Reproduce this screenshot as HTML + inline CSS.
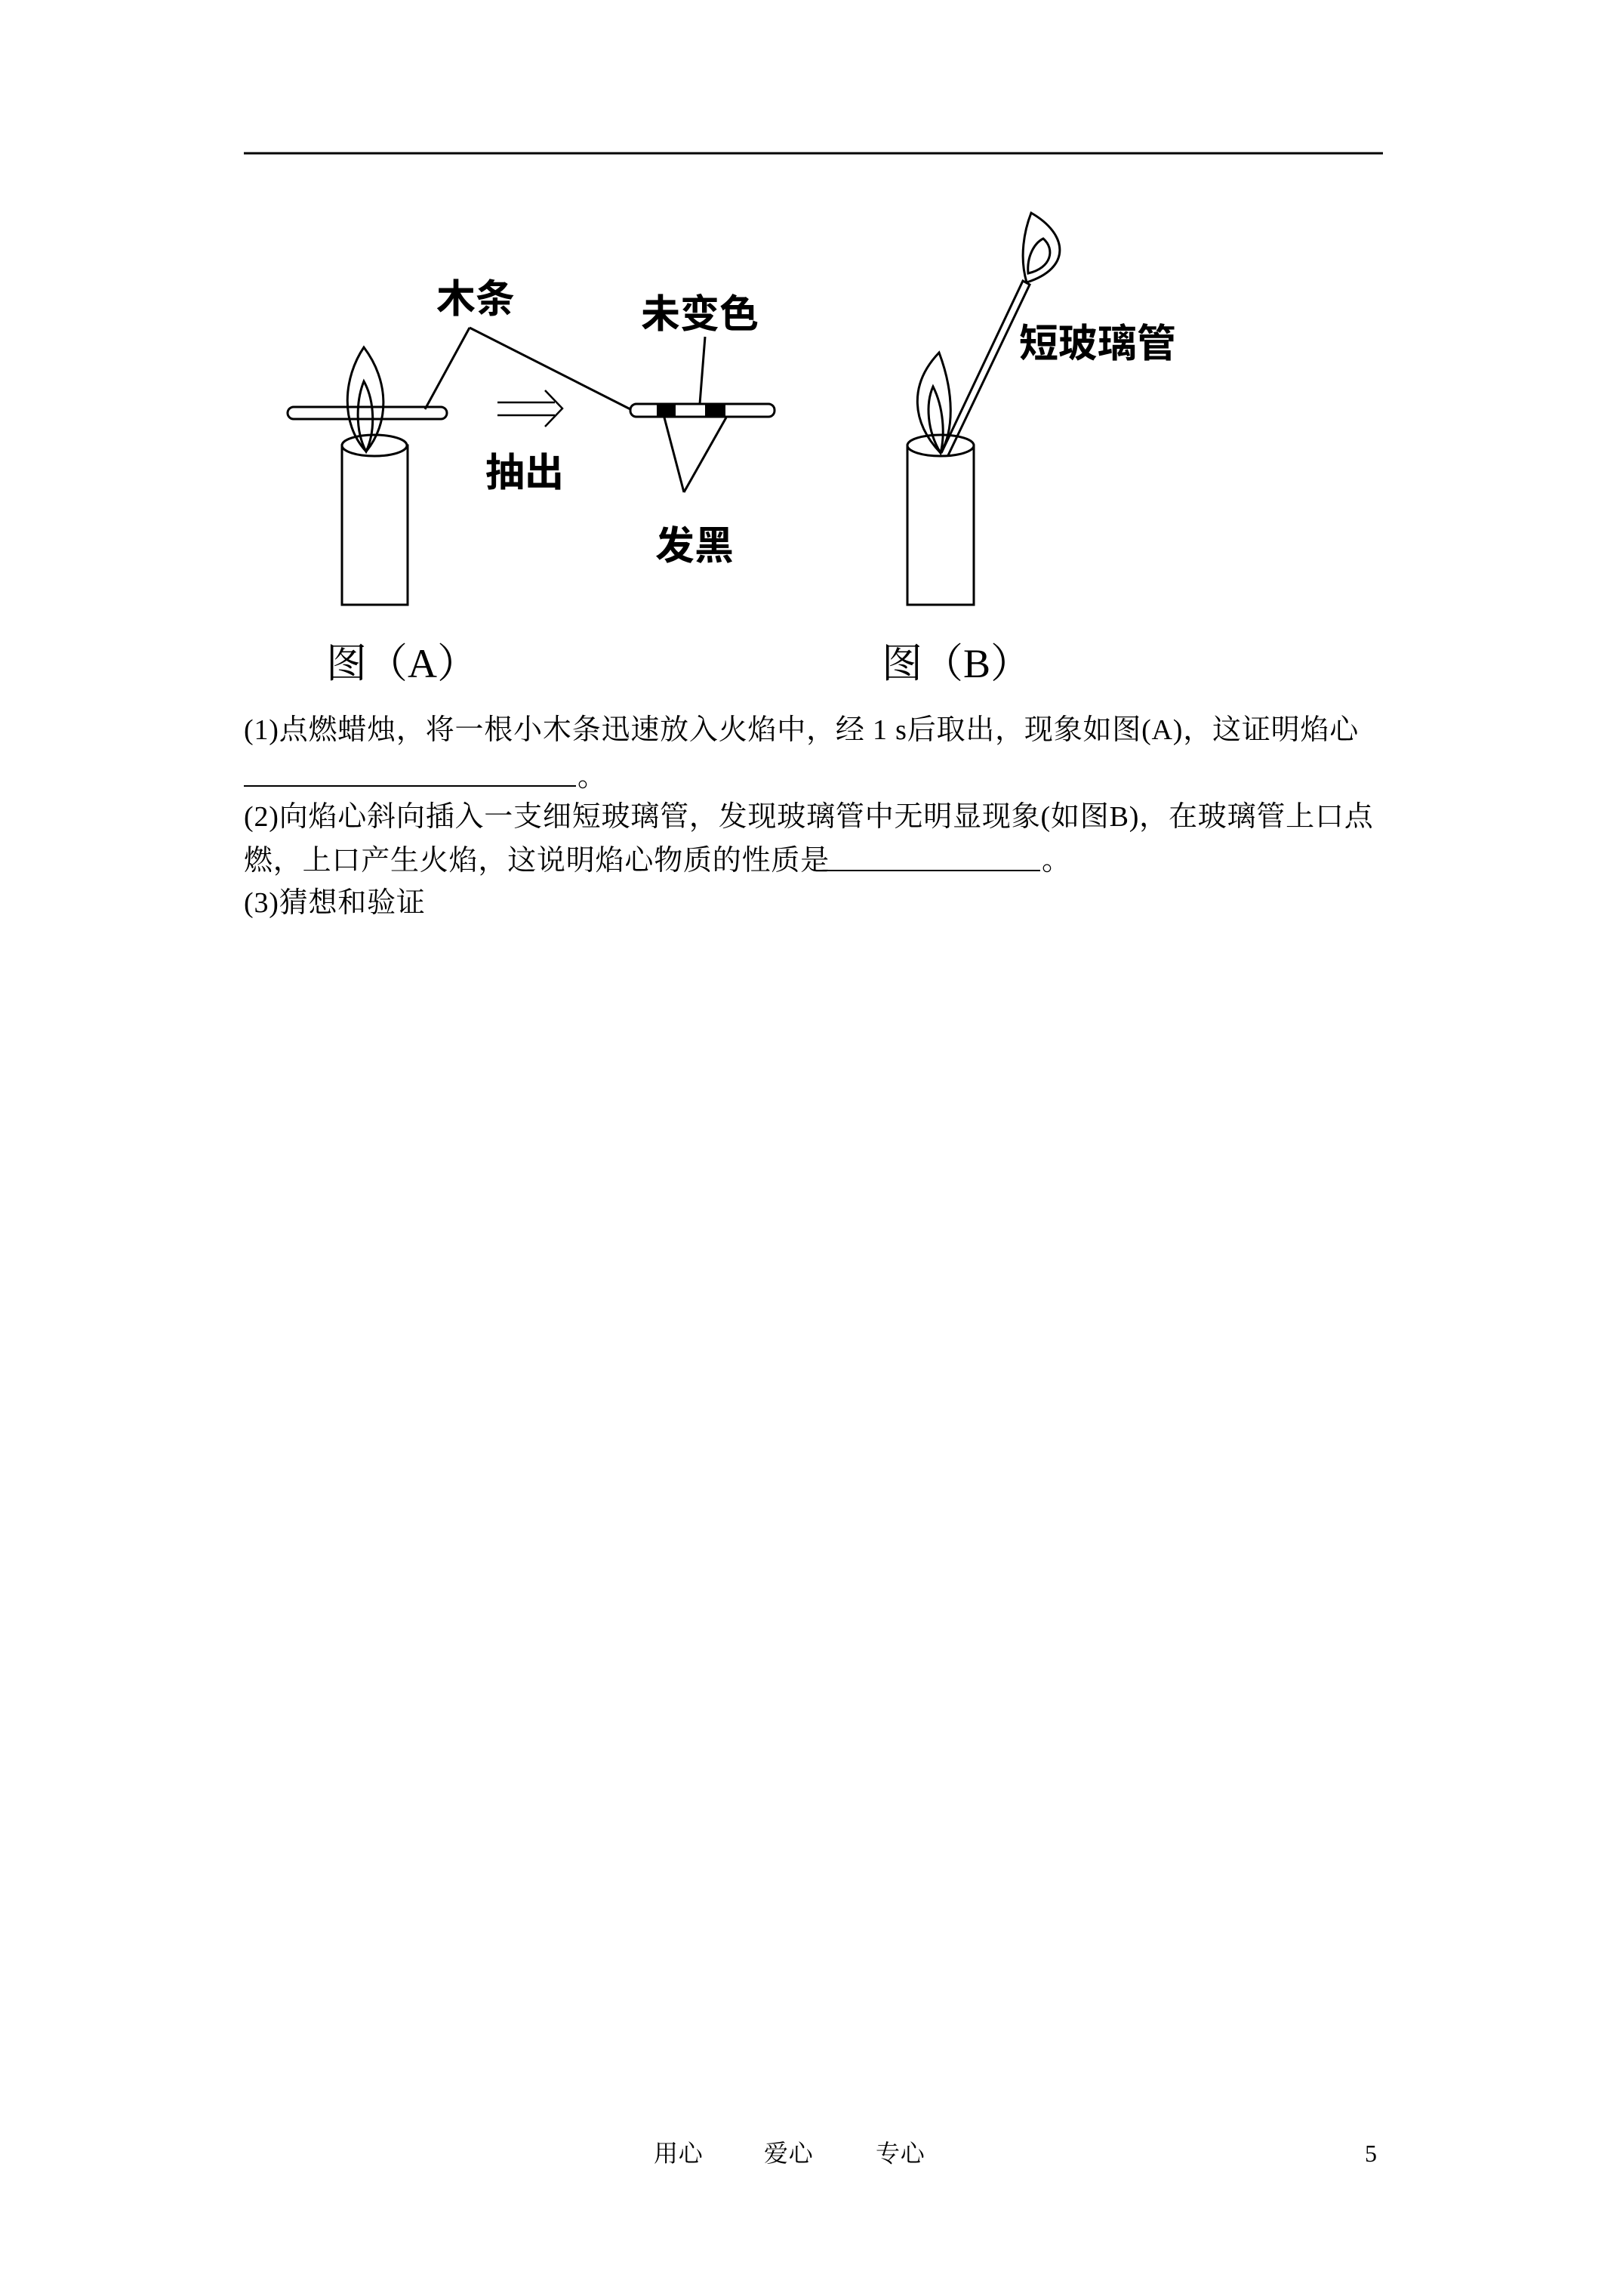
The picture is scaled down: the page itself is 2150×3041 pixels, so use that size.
<!DOCTYPE html>
<html><head><meta charset="utf-8"><style>
html,body{margin:0;padding:0;background:#fff}
body{width:2150px;height:3041px;position:relative;overflow:hidden}
.t{position:absolute;font-family:"Liberation Serif","Noto Serif CJK SC",serif;font-size:38px;letter-spacing:0.8px;color:#000;white-space:nowrap;line-height:1}
.u{position:absolute;border-top:2px solid #000}
</style></head><body>
<svg width="2150" height="1000" style="position:absolute;left:0;top:0" xmlns="http://www.w3.org/2000/svg">
<line x1="323" y1="203" x2="1832" y2="203" stroke="#000" stroke-width="3"/>
<g fill="none" stroke="#000" stroke-width="3">
<rect x="453" y="590" width="87" height="211" fill="#fff"/>
<ellipse cx="496" cy="590" rx="43" ry="14" fill="#fff"/>
<rect x="381" y="539" width="211" height="16" rx="8" fill="#fff"/>
<path d="M485 598 C450 560 455 500 482 460 C516 505 516 560 485 598 Z"/>
<path d="M485 598 C470 570 472 530 482 505 C496 530 498 570 485 598 Z"/>
<line x1="622" y1="434" x2="563" y2="542"/>
<line x1="622" y1="434" x2="835" y2="542"/>
<line x1="659" y1="533" x2="735" y2="533" stroke-width="2.5"/>
<line x1="659" y1="550" x2="735" y2="550" stroke-width="2.5"/>
<path d="M722 517 L745 541 L722 565" stroke-width="2.5"/>
<rect x="835" y="535" width="191" height="17" rx="8" fill="#fff"/>
<line x1="934" y1="446" x2="927" y2="535"/>
<line x1="880" y1="553" x2="906" y2="652"/>
<line x1="962" y1="553" x2="906" y2="652"/>
<rect x="1202" y="590" width="88" height="211" fill="#fff"/>
<ellipse cx="1246" cy="590" rx="44" ry="14" fill="#fff"/>
<path d="M1246 600 C1208 560 1203 510 1244 467 C1264 520 1264 570 1246 600 Z"/>
<path d="M1246 600 C1228 570 1226 535 1236 512 C1250 540 1252 575 1246 600 Z"/>
<path d="M1247 600 L1355 372 L1364 377 L1256 603"/>
<path d="M1360 374 C1350 340 1357 305 1366 282 C1415 310 1420 355 1360 374 Z"/>
<path d="M1362 362 C1360 340 1370 322 1382 316 C1398 330 1393 355 1362 362 Z"/>
</g>
<rect x="870" y="536" width="25" height="15" fill="#000"/>
<rect x="934" y="536" width="27" height="15" fill="#000"/>
<g font-family="Liberation Sans,'Noto Sans CJK SC',sans-serif" font-weight="bold" font-size="52">
<text x="578" y="414">木条</text>
<text x="849" y="434">未变色</text>
<text x="643" y="644">抽出</text>
<text x="868" y="741">发黑</text>
<text x="1350" y="473">短玻璃管</text>
</g>
<g font-family="Liberation Serif,'Noto Serif CJK SC',serif" font-size="54">
<text x="432" y="897">图（A）</text>
<text x="1168" y="897">图（B）</text>
</g>
</svg>
<div class="t" style="left:323px;top:948px">(1)点燃蜡烛，将一根小木条迅速放入火焰中，经 1 s后取出，现象如图(A)，这证明焰心</div>
<div class="u" style="left:323px;top:1040px;width:440px"></div>
<div class="t" style="left:765px;top:1010px">。</div>
<div class="t" style="left:323px;top:1063px">(2)向焰心斜向插入一支细短玻璃管，发现玻璃管中无明显现象(如图B)，在玻璃管上口点</div>
<div class="t" style="left:323px;top:1121px">燃，上口产生火焰，这说明焰心物质的性质是</div>
<div class="u" style="left:1095px;top:1152px;width:283px"></div>
<div class="t" style="left:1380px;top:1121px">。</div>
<div class="t" style="left:323px;top:1177px">(3)猜想和验证</div>
<div class="t" style="left:866px;top:2836px;font-size:32px">用心</div>
<div class="t" style="left:1012px;top:2836px;font-size:32px">爱心</div>
<div class="t" style="left:1160px;top:2836px;font-size:32px">专心</div>
<div class="t" style="left:1808px;top:2836px;font-size:32px">5</div>
</body></html>
